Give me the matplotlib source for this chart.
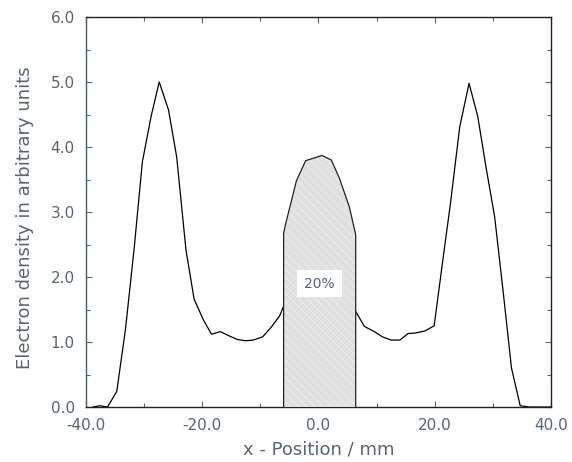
import matplotlib
matplotlib.use("Agg")
import matplotlib.pyplot as plt
import numpy as np

plt.rcParams['font.family'] = ['DejaVu Sans']
plt.rcParams['hatch.linewidth'] = 0.6

# Profile (x position in mm, electron density)
x_left = [-38.8, -37.6, -36.3, -34.7, -33.2, -31.7, -30.3, -28.8, -27.4, -25.8,
          -24.4, -22.8, -21.4, -19.8, -18.4, -16.9, -15.5, -14.0, -12.6, -11.2,
          -9.6, -8.2, -6.7, -6.0]
y_left = [0.0, 0.02, 0.0, 0.24, 1.2, 2.45, 3.77, 4.47, 5.0, 4.57,
          3.85, 2.42, 1.66, 1.34, 1.12, 1.16, 1.10, 1.04, 1.02, 1.03,
          1.08, 1.22, 1.40, 1.55]

x_mid = [-6.0, -5.7, -3.8, -2.2, 0.6, 2.2, 3.6, 5.3, 6.4]
y_mid = [2.67, 2.80, 3.48, 3.79, 3.87, 3.80, 3.52, 3.08, 2.65]

x_right = [6.4, 7.9, 9.6, 11.0, 12.5, 14.0, 15.4, 16.8, 18.3, 19.9,
           21.3, 22.7, 24.3, 25.9, 27.4, 28.8, 30.3, 31.8, 33.2, 34.7,
           36.2, 40.0]
y_right = [1.47, 1.24, 1.16, 1.08, 1.03, 1.03, 1.13, 1.14, 1.17, 1.25,
           2.2, 3.13, 4.31, 4.98, 4.47, 3.70, 2.93, 1.75, 0.6, 0.02,
           0.0, 0.0]

share_label = "20%"
x_ticks = [-40.0, -20.0, 0.0, 20.0, 40.0]
y_ticks = [0.0, 1.0, 2.0, 3.0, 4.0, 5.0, 6.0]

text_color = '#5a6470'

fig = plt.figure(figsize=(5.72, 4.62), dpi=100)
ax = fig.add_axes([0.1503, 0.119, 0.8130, 0.8442])

ax.plot(x_left, y_left, color='black', lw=0.9, zorder=2)
ax.plot(x_right, y_right, color='black', lw=0.9, zorder=2)

xm = np.array(x_mid)
ym = np.array(y_mid)
ax.fill_between(xm, 0, ym, facecolor='#e0e0e0', edgecolor='#f0f0f0',
                hatch='\\\\\\\\', linewidth=0, zorder=3)
# outline of shaded region
ox = np.concatenate([[xm[0]], xm, [xm[-1]]])
oy = np.concatenate([[0], ym, [0]])
ax.plot(ox, oy, color='#222222', lw=0.9, zorder=4)

ax.text((xm[0] + xm[-1]) / 2, 1.9, share_label, ha='center', va='center',
        fontsize=10, color=text_color, zorder=5,
        bbox=dict(boxstyle='square,pad=0.5', facecolor='white', edgecolor='none'))

ax.set_xlim(-40, 40)
ax.set_ylim(0, 6)
ax.set_xticks(x_ticks)
ax.set_xticklabels([f"{v:.1f}" for v in x_ticks])
ax.set_yticks(y_ticks)
ax.set_yticklabels([f"{v:.1f}" for v in y_ticks])
ax.set_xticks(np.arange(-40, 41, 10), minor=True)
ax.set_yticks(np.arange(0, 6.01, 0.5), minor=True)

ax.tick_params(which='both', direction='in', top=True, right=True,
               color='#4a6a86', width=0.8, labelsize=11, labelcolor=text_color)
ax.tick_params(which='major', length=4)
ax.tick_params(which='minor', length=3)
ax.tick_params(axis='x', pad=8)
ax.tick_params(axis='y', pad=8)

for s in ['top', 'right', 'bottom']:
    ax.spines[s].set_color('#222222')
    ax.spines[s].set_linewidth(1.0)
ax.spines['left'].set_color('#4a5a6a')
ax.spines['left'].set_linewidth(1.0)

ax.set_xlabel("x - Position / mm", fontsize=13, color=text_color)
ax.set_ylabel("Electron density in arbitrary units", fontsize=13, color=text_color)
ax.xaxis.set_label_coords(0.5, -0.087)
ax.yaxis.set_label_coords(-0.112, 0.485)

fig.savefig("out.png", dpi=100)
